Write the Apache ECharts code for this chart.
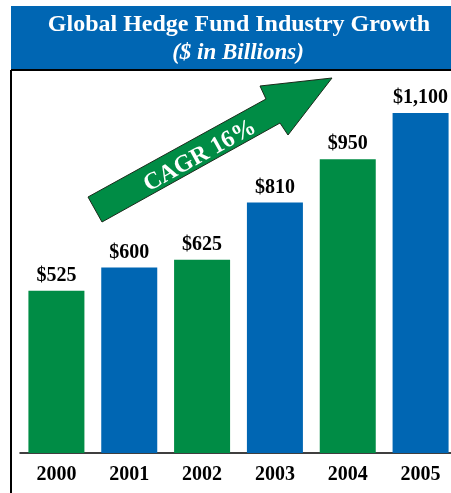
<!DOCTYPE html>
<html>
<head>
<meta charset="utf-8">
<script src="https://cdn.jsdelivr.net/npm/echarts@6/dist/echarts.min.js"></script>
<style>
  html, body { margin: 0; padding: 0; background: #fff; }
  #chart { width: 451px; height: 493px; }
</style>
</head>
<body>
<div id="chart"></div>
<script>
// Hedge fund industry assets by year ($ billions)
const years = ['2000', '2001', '2002', '2003', '2004', '2005'];
const assets = [525, 600, 625, 810, 950, 1100];
const valueLabels = ['$525', '$600', '$625', '$810', '$950', '$1,100'];
const barColors = ['#008c45', '#0066b3', '#008c45', '#0066b3', '#008c45', '#0066b3'];

const serif = '"Liberation Serif", "Times New Roman", serif';
const chart = echarts.init(document.getElementById('chart'));

chart.setOption({
  animation: false,
  backgroundColor: '#ffffff',
  grid: { left: 20, width: 437, top: 82, bottom: 40, outerBoundsMode: 'none', containLabel: false },
  xAxis: {
    type: 'category',
    data: years,
    axisTick: { show: false },
    axisLine: { lineStyle: { color: '#000', width: 1.5 } },
    axisLabel: {
      color: '#000', fontFamily: serif, fontWeight: 'bold', fontSize: 20, margin: 12
    }
  },
  yAxis: {
    type: 'value', min: 0, max: 1200,
    show: false, splitLine: { show: false }
  },
  series: [{
    type: 'bar',
    barWidth: 56,
    data: assets.map((v, i) => ({ value: v, itemStyle: { color: barColors[i] } })),
    label: {
      show: true, position: 'top', distance: 5,
      color: '#000', fontFamily: serif, fontWeight: 'bold', fontSize: 20,
      formatter: p => valueLabels[p.dataIndex]
    }
  }],
  graphic: [
    // title banner
    { type: 'rect', shape: { x: 11, y: 6, width: 445, height: 64 }, style: { fill: '#0066b3' }, z: 10 },
    { type: 'text', x: 239, y: 25, z: 11,
      style: { text: 'Global Hedge Fund Industry Growth', fill: '#fff', font: 'bold 24px ' + serif,
        textAlign: 'center', textVerticalAlign: 'middle',
        shadowColor: 'rgba(0,0,0,0.7)', shadowOffsetX: 1.5, shadowOffsetY: 1.5, shadowBlur: 1 } },
    { type: 'text', x: 238, y: 53, z: 11,
      style: { text: '($ in Billions)', fill: '#fff', font: 'italic bold 23px ' + serif,
        textAlign: 'center', textVerticalAlign: 'middle',
        shadowColor: 'rgba(0,0,0,0.7)', shadowOffsetX: 1.5, shadowOffsetY: 1.5, shadowBlur: 1 } },
    // frame lines
    { type: 'line', shape: { x1: 11, y1: 70, x2: 451, y2: 70 }, style: { stroke: '#000', lineWidth: 2 }, z: 11 },
    { type: 'line', shape: { x1: 11, y1: 70, x2: 11, y2: 493 }, style: { stroke: '#000', lineWidth: 2 }, z: 11 },
    // growth arrow
    { type: 'polygon', z: 5,
      shape: { points: [[88, 197], [266, 99], [260, 86], [332, 78], [288, 135], [280, 123], [102, 222]] },
      style: { fill: '#008c45', stroke: '#1a2a1a', lineWidth: 1 } },
    { type: 'text', x: 200, y: 156, rotation: 29 * Math.PI / 180, z: 6,
      style: { text: 'CAGR 16%', fill: '#fff', font: 'bold 24px ' + serif,
        textAlign: 'center', textVerticalAlign: 'middle' } }
  ]
});
</script>
</body>
</html>
